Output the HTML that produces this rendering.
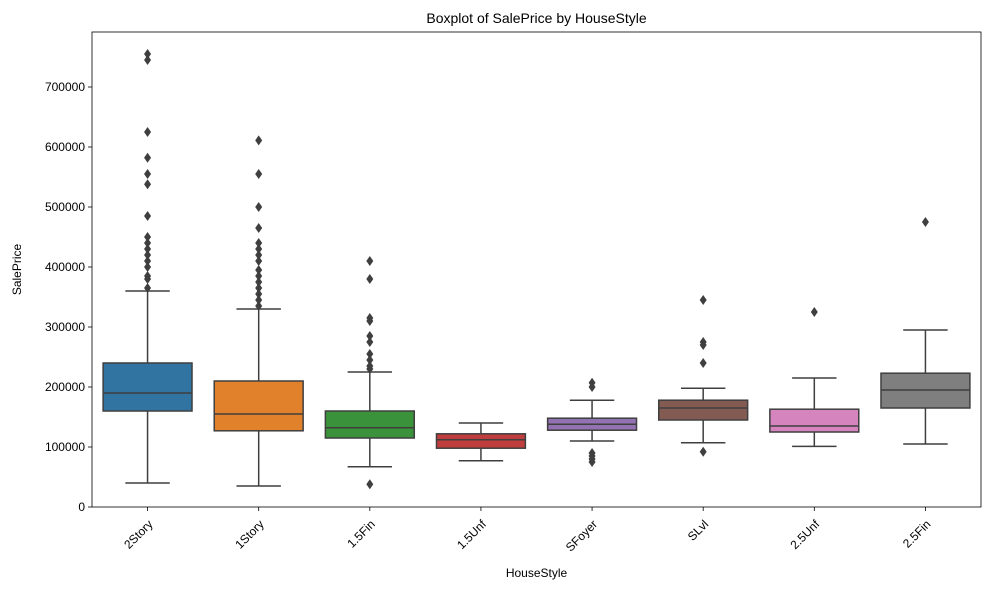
<!DOCTYPE html>
<html><head><meta charset="utf-8"><style>
body{margin:0;background:#fff;font-family:"Liberation Sans","DejaVu Sans",sans-serif;}
</style></head><body>
<svg id="chart" width="989" height="590" font-family="Liberation Sans, DejaVu Sans, sans-serif"></svg>
<script>
const categories=["2Story","1Story","1.5Fin","1.5Unf","SFoyer","SLvl","2.5Unf","2.5Fin"];
const colors=["#3274a1","#e1812c","#3a923a","#c03d3e","#9372b2","#845b53","#d684bd","#7f7f7f"];
const whiskerLow=[40000,35000,67000,77000,110000,107000,101000,105000];
const q1=[160000,127000,115000,98000,128000,145000,125000,165000];
const medians=[190000,155000,132000,112000,138000,165000,135000,195000];
const q3=[240000,210000,160000,122000,148000,178000,163000,223000];
const whiskerHigh=[360000,330000,225000,140000,178000,198000,215000,295000];
const outliers=[
[755000,745000,625000,582000,555000,538000,485000,450000,440000,430000,420000,410000,400000,385000,380000,365000],
[611000,555000,500000,465000,440000,430000,420000,410000,395000,385000,375000,365000,355000,345000,335000],
[410000,380000,315000,310000,285000,275000,255000,245000,235000,230000,38000],
[],
[207000,200000,90000,85000,80000,75000],
[345000,275000,270000,240000,92000],
[325000],
[475000]];
const yTicks=[0,100000,200000,300000,400000,500000,600000,700000];
const L=92,R=981,T=32,B=507;
const svg=document.getElementById('chart');
const NS='http://www.w3.org/2000/svg';
function y(v){return B-v*0.0006;}
function xc(i){return L+(i+0.5)*(R-L)/categories.length;}
function mk(t,a,p){const e=document.createElementNS(NS,t);for(const k in a)e.setAttribute(k,a[k]);(p||svg).appendChild(e);return e;}
const lc="#3f3f3f";
const bw=(R-L)/categories.length*0.8;
categories.forEach((c,i)=>{
 const g=mk('g',{});
 
 
 const x=xc(i);
 mk('line',{x1:x,x2:x,y1:y(whiskerLow[i]),y2:y(q1[i]),stroke:lc,'stroke-width':1.5},g);
 mk('line',{x1:x,x2:x,y1:y(q3[i]),y2:y(whiskerHigh[i]),stroke:lc,'stroke-width':1.5},g);
 mk('line',{x1:x-bw/4,x2:x+bw/4,y1:y(whiskerLow[i]),y2:y(whiskerLow[i]),stroke:lc,'stroke-width':1.5},g);
 mk('line',{x1:x-bw/4,x2:x+bw/4,y1:y(whiskerHigh[i]),y2:y(whiskerHigh[i]),stroke:lc,'stroke-width':1.5},g);
 mk('rect',{x:x-bw/2,y:y(q3[i]),width:bw,height:y(q1[i])-y(q3[i]),fill:colors[i],stroke:lc,'stroke-width':1.5},g);
 mk('line',{x1:x-bw/2,x2:x+bw/2,y1:y(medians[i]),y2:y(medians[i]),stroke:lc,'stroke-width':1.5},g);
 outliers[i].forEach(v=>{
  const d=mk('path',{d:`M${x},${y(v)-5}L${x+3.5},${y(v)}L${x},${y(v)+5}L${x-3.5},${y(v)}Z`,fill:lc},g);
  
  
 });
 const lx=x, ly=B+12;
 const t=mk('text',{x:lx,y:ly,'font-size':12,fill:'#000','text-anchor':'end',transform:`rotate(-45 ${lx} ${ly})`,dy:'0.7em'});
 t.textContent=c;
 
 
 mk('line',{x1:x,x2:x,y1:B,y2:B+4,stroke:'#000','stroke-width':0.8});
});
yTicks.forEach(v=>{
 mk('line',{x1:L-4,x2:L,y1:y(v),y2:y(v),stroke:'#000','stroke-width':0.8});
 const t=mk('text',{x:L-7,y:y(v)+4,'font-size':12,'text-anchor':'end',fill:'#000'});
 t.textContent=v;
 
 
});
const f=mk('rect',{x:L,y:T,width:R-L,height:B-T,fill:'none',stroke:'#000','stroke-width':0.8});


const ti=mk('text',{x:(L+R)/2,y:23,'font-size':14,'text-anchor':'middle'});
ti.textContent='Boxplot of SalePrice by HouseStyle';


const xt=mk('text',{x:(L+R)/2,y:577,'font-size':12,'text-anchor':'middle'});
xt.textContent='HouseStyle';


const yt=mk('text',{x:21,y:(T+B)/2,'font-size':12,'text-anchor':'middle',transform:`rotate(-90 21 ${(T+B)/2})`});
yt.textContent='SalePrice';


</script>
</body></html>
